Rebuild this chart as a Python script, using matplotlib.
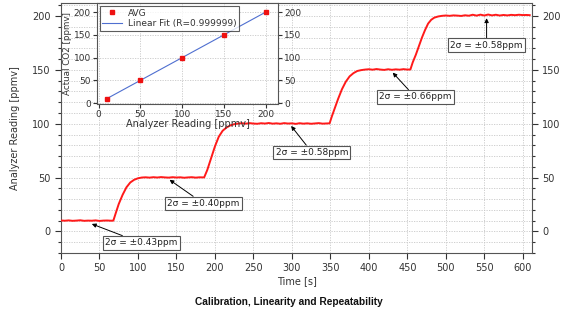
import matplotlib
matplotlib.use("Agg")
import matplotlib.pyplot as plt
from matplotlib.ticker import MultipleLocator

# ---- data ----
time_s = [0, 5, 10, 15, 20, 25, 30, 35, 40, 45, 50, 55, 60, 65, 68,
          72, 75, 80, 85, 90, 95, 100, 105,
          110, 115, 120, 125, 130, 135, 140, 145, 150, 155, 160, 165, 170, 175, 180, 186,
          190, 195, 200, 205, 210, 215, 220, 225, 230,
          235, 240, 245, 250, 255, 260, 265, 270, 275, 280, 285, 290, 295, 300, 305, 310,
          315, 320, 325, 330, 335, 340, 345, 349,
          352, 356, 360, 365, 370, 375, 380, 385, 390, 395,
          400, 405, 410, 415, 420, 425, 430, 435, 440, 445, 450, 454,
          457, 461, 465, 469, 473, 477, 481, 485, 490, 495,
          500, 505, 510, 515, 520, 525, 530, 535, 540, 545, 550, 555, 560, 565, 570,
          575, 580, 585, 590, 595, 600, 605, 609]
reading_ppmv = [10.2, 10.0, 10.3, 9.9, 10.1, 10.4, 9.9, 10.1, 10.0, 10.3, 9.8, 10.1, 10.2, 10.0, 10.1,
                19.0, 25.5, 34.0, 41.0, 45.5, 48.0, 49.4, 50.1,
                50.3, 50.0, 50.4, 50.1, 50.5, 50.2, 50.0, 50.4, 50.1, 50.3, 49.9, 50.2, 50.4, 50.0, 50.3, 50.2,
                57.0, 68.0, 79.0, 88.0, 93.5, 96.5, 98.5, 99.6, 100.2,
                100.5, 100.1, 100.6, 100.2, 100.0, 100.5, 100.2, 100.7, 100.1, 100.4, 100.0, 100.6, 100.2, 100.4, 99.9, 100.5,
                100.1, 100.4, 100.0, 100.3, 100.6, 100.1, 100.3, 100.4,
                107.0, 115.0, 123.0, 132.0, 139.0, 144.0, 147.0, 149.0, 149.8, 150.3,
                150.6, 150.2, 150.8, 150.3, 150.0, 150.6, 150.1, 150.5, 150.2, 150.7, 150.3, 150.4,
                157.0, 164.0, 172.0, 180.0, 187.0, 193.0, 196.5, 198.5, 199.6, 200.2,
                200.5, 200.2, 200.6, 200.4, 200.1, 200.7, 200.3, 201.2, 200.4, 201.3, 200.5, 201.4, 200.6, 201.2, 200.5,
                201.0, 200.6, 201.1, 200.8, 201.2, 200.9, 201.0, 200.8]

avg_x = [10, 50, 100, 150, 200]
avg_y = [10, 50, 100, 150, 200]
fit_x = [10, 200]
fit_y = [10, 200]

annot_texts = ["2σ = ±0.43ppm", "2σ = ±0.40ppm", "2σ = ±0.58ppm", "2σ = ±0.66ppm", "2σ = ±0.58ppm"]
annot_heads = [(40, 7), (141, 48), (299, 98), (431, 147.5), (553, 198)]
annot_boxes = [(104, -10.5), (185, 26), (326, 73.5), (460, 125), (553, 173)]

# ---- figure ----
fig = plt.figure(figsize=(5.65, 3.12), dpi=100)
plt.rcParams['font.family'] = ['DejaVu Sans']
tc = '#333333'
gc = '#c8c8c8'

ax = fig.add_axes([0.108, 0.189, 0.8336, 0.801])
ax.plot(time_s, reading_ppmv, color='#ff1a1a', lw=1.4, zorder=3)
ax.set_xlim(0, 612)
ax.set_ylim(-20, 212)
ax.xaxis.set_major_locator(MultipleLocator(50))
ax.yaxis.set_major_locator(MultipleLocator(50))
ax.yaxis.set_minor_locator(MultipleLocator(10))
ax.grid(True, which='major', axis='x', color=gc, ls=(0, (1.5, 1.5)), lw=0.6)
ax.grid(True, which='both', axis='y', color=gc, ls=(0, (1.5, 1.5)), lw=0.6)
ax.tick_params(which='both', direction='out', right=True, labelright=True,
               labelsize=7, colors=tc, width=0.8)
ax.tick_params(which='major', length=4)
ax.tick_params(which='minor', length=2)
for s in ax.spines.values():
    s.set_color('#555555')
ax.set_xlabel('Time [s]', fontsize=7, color=tc, labelpad=2)
ax.set_ylabel('Analyzer Reading [ppmv]', fontsize=7, color=tc, labelpad=9)

for txt, head, box in zip(annot_texts, annot_heads, annot_boxes):
    ax.annotate(txt, xy=head, xytext=box, ha='center', va='center',
                fontsize=6.5, color='#222222', zorder=5,
                bbox=dict(boxstyle='square,pad=0.25', fc='white', ec='#555555', lw=0.8),
                arrowprops=dict(arrowstyle='-|>', color='black', lw=0.7,
                                mutation_scale=6, shrinkA=0, shrinkB=0))

# ---- inset ----
ins = fig.add_axes([0.1717, 0.6667, 0.3204, 0.3233])
ins.plot(fit_x, fit_y, color='#4f6fd0', lw=0.8, label='Linear Fit (R=0.999999)', zorder=2)
ins.plot(avg_x, avg_y, ls='none', marker='s', ms=2.5, color='#ee1111', label='AVG', zorder=3)
ins.set_xlim(-2, 215)
ins.set_ylim(-2, 220)
ins.xaxis.set_major_locator(MultipleLocator(50))
ins.yaxis.set_major_locator(MultipleLocator(50))
ins.grid(True, color=gc, ls=(0, (1.5, 1.5)), lw=0.6)
ins.tick_params(direction='out', right=True, labelright=True, labelsize=6.5,
                colors=tc, length=3, width=0.8, pad=1.5)
for s in ins.spines.values():
    s.set_color('#555555')
ins.set_xlabel('Analyzer Reading [ppmv]', fontsize=7, color=tc, labelpad=0)
ins.set_ylabel('Actual CO2 [ppmv]', fontsize=6.3, color=tc, labelpad=1)
h, l = ins.get_legend_handles_labels()
leg = ins.legend(h[::-1], l[::-1], loc='upper left', fontsize=6.5, frameon=True,
                 fancybox=False, edgecolor='#333333', borderaxespad=0.3,
                 handlelength=2.2, borderpad=0.3, labelspacing=0.2, handletextpad=0.6)
leg.get_frame().set_linewidth(0.8)
for t in leg.get_texts():
    t.set_color(tc)

fig.text(0.512, 0.032, 'Calibration, Linearity and Repeatability', ha='center', va='center',
         fontsize=7.3, fontweight='bold', family='Liberation Sans', color='#111111')

fig.savefig('out.png', dpi=100)
